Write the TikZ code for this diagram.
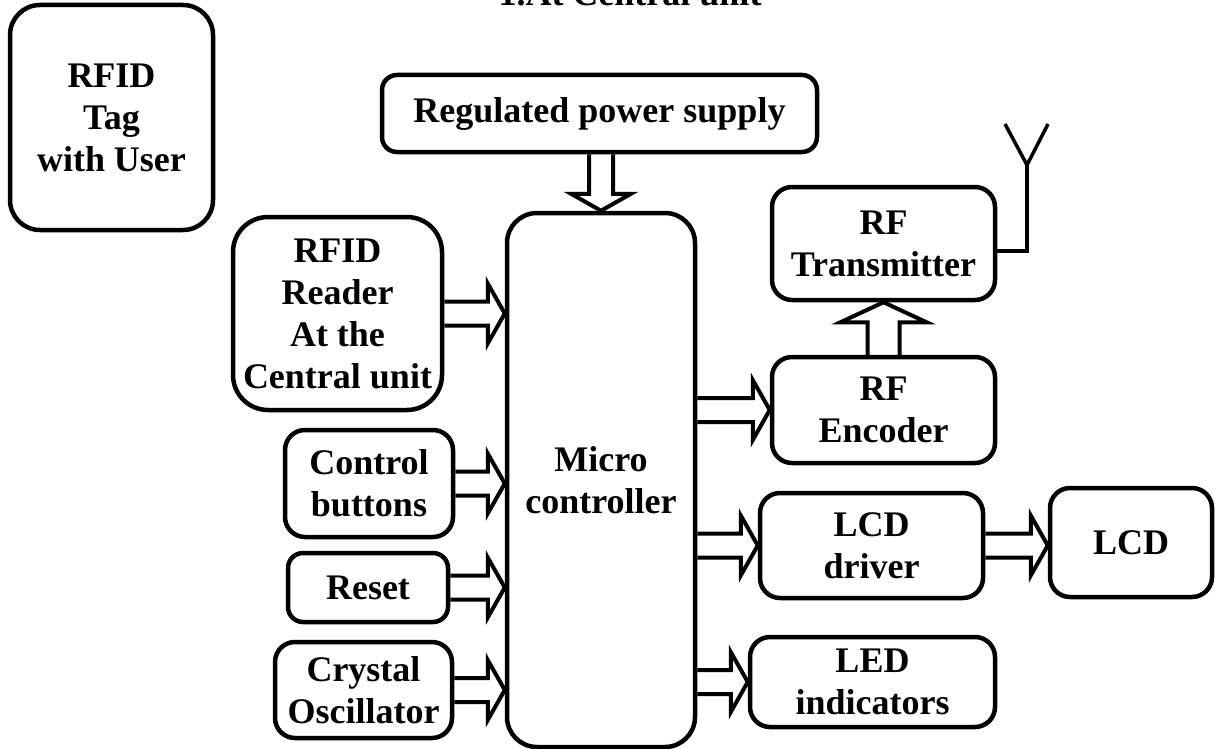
\documentclass[tikz,border=0pt]{standalone}
\usepackage{fontspec}
\setmainfont{Liberation Serif}
\usepackage{tikz}
\usetikzlibrary{calc}
\tikzset{
  block/.style={draw, line width=4.5pt, rounded corners=20pt, align=center, inner sep=0pt,
    font=\bfseries\fontsize{36}{42}\selectfont},
  bus/.style={line width=4pt, line join=miter, miter limit=10},
  aerial/.style={line width=3.5pt}
}
% bus arrow sizes: half shaft, half head, head length
\def\bw{12pt}
\def\hw{30pt}
\def\hl{17pt}
\newcommand{\busright}[2]{\draw[bus] let \p1=(#1), \p2=(#2) in
  (\x1,\y2+\bw) -- (\x2-\hl,\y2+\bw) -- (\x2-\hl,\y2+\hw) -- (\p2) --
  (\x2-\hl,\y2-\hw) -- (\x2-\hl,\y2-\bw) -- (\x1,\y2-\bw);}
\newcommand{\busdown}[2]{\draw[bus] let \p1=(#1), \p2=(#2) in
  (\x2+\bw,\y1) -- (\x2+\bw,\y2+\hl) -- (\x2+\hw,\y2+\hl) -- (\p2) --
  (\x2-\hw,\y2+\hl) -- (\x2-\bw,\y2+\hl) -- (\x2-\bw,\y1);}
\newcommand{\busup}[2]{\draw[bus] let \p1=(#1), \p2=(#2) in
  (\x2+\bw,\y1) -- (\x2+\bw,\y2-\hl) -- (\x2+\hw,\y2-\hl) -- (\p2) --
  (\x2-\hw,\y2-\hl) -- (\x2-\bw,\y2-\hl) -- (\x2-\bw,\y1);}
\begin{document}
\begin{tikzpicture}[x=1pt, y=1pt]
    \useasboundingbox (0,0) rectangle (1215,-749);

    % Title (cut at the top)
    \node[anchor=base, font=\bfseries\fontsize{36}{42}\selectfont] (title) at (630,-6) {1.At Central unit};

    % Blocks
    \node[block, rounded corners=30pt, minimum width=203, minimum height=225] (tag) at (111.5,-117.5) {RFID\\Tag\\with User};
    \node[block, rounded corners=15pt, minimum width=435, minimum height=77] (psu) at (599.5,-113.5) {Regulated power supply};
    \node[block, rounded corners=30pt, minimum width=188, minimum height=534] (mcu) at (601,-480) {Micro\\controller};
    \node[block, rounded corners=35pt, minimum width=209, minimum height=193] (reader) at (337.5,-313.5) {RFID\\Reader\\At the\\Central unit};
    \node[block, minimum width=168, minimum height=107] (ctrl) at (369,-483.5) {Control\\buttons};
    \node[block, rounded corners=15pt, minimum width=160, minimum height=69] (reset) at (368,-587.5) {Reset};
    \node[block, minimum width=177, minimum height=96] (xtal) at (363.5,-690) {Crystal\\Oscillator};
    \node[block, minimum width=223, minimum height=113] (tx) at (883.5,-243.5) {RF\\Transmitter};
    \node[block, minimum width=223, minimum height=106] (enc) at (883.5,-410) {RF\\Encoder};
    \node[block, minimum width=223, minimum height=105] (lcddrv) at (871.5,-545.5) {LCD\\driver};
    \node[block, minimum width=245, minimum height=90] (led) at (872.5,-682) {LED\\indicators};
    \node[block, minimum width=162, minimum height=109] (lcd) at (1131,-542.5) {LCD};

    % Antenna
    \coordinate (antfoot) at (1027,-251);
    \coordinate (antfeed) at (1027,-165);
    \coordinate (antleft) at (1005,-124);
    \coordinate (antright) at (1048,-124);
    \draw[aerial] (tx.east |- antfoot) -- (antfoot) -- (antfeed);
    \draw[aerial] (antleft) -- (antfeed) -- (antright);

    % Bus arrows
    \busdown{psu.south}{mcu.north}
    \busright{reader.east}{mcu.west |- reader.east}
    \busright{ctrl.east}{mcu.west |- ctrl.east}
    \busright{reset.east}{mcu.west |- reset.east}
    \busright{xtal.east}{mcu.west |- xtal.east}
    \busright{mcu.east |- enc.west}{enc.west}
    \busright{mcu.east |- lcddrv.west}{lcddrv.west}
    \busright{mcu.east |- led.west}{led.west}
    \busright{lcddrv.east}{lcd.west |- lcddrv.east}
    {\def\bw{16pt}\def\hw{43pt}\def\hl{20pt}
    \busup{enc.north}{tx.south}}
\end{tikzpicture}
\end{document}
